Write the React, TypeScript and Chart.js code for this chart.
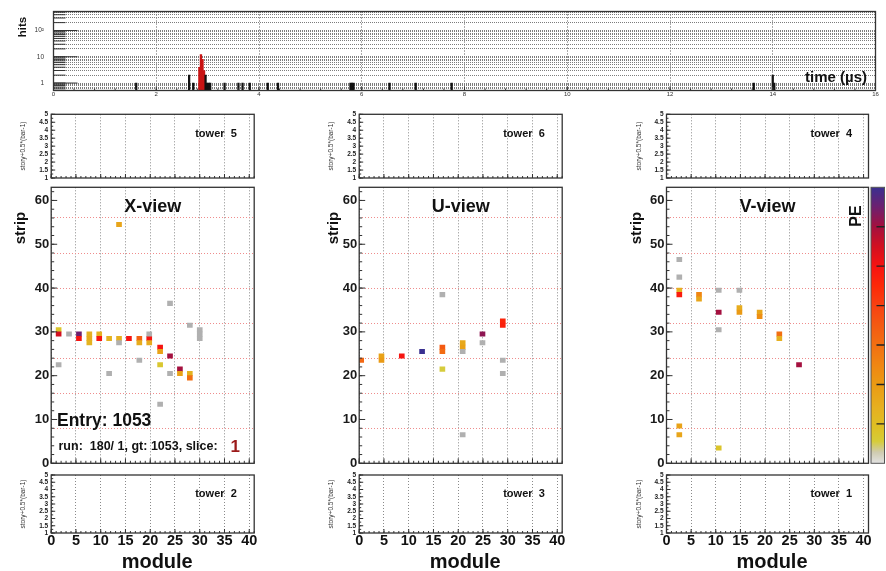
import React, { useEffect, useRef } from 'react';
import { Chart, registerables } from 'chart.js';

Chart.register(...registerables);

const FONT = "'Liberation Sans', Arial, Helvetica, sans-serif";

/* ====================== DATA ====================== */
// timing histogram: all hits (black) and hits of the selected slice (red)
const ALL_HIT_TIME = [1.61, 2.64, 2.72, 2.96, 2.99, 3.02, 3.05, 3.33, 3.6, 3.68, 3.82, 4.17, 4.37, 5.78, 5.81, 5.84, 6.54, 7.05, 7.75, 13.63, 14.0, 14.03];
const ALL_HIT_COUNT = [1, 2, 1, 2, 1, 1, 1, 1, 1, 1, 1, 1, 1, 1, 1, 1, 1, 1, 1, 1, 2, 1];
const SLICE_HIT_TIME = [2.84, 2.87, 2.9, 2.93];
const SLICE_HIT_COUNT = [4, 12, 8, 3];
const TIME_TICKS = [0, 2, 4, 6, 8, 10, 12, 14, 16];
const HITS_TICKS = [0.6, 0.7, 0.8, 0.9, 1, 2, 3, 4, 5, 6, 7, 8, 9, 10, 20, 30, 40, 50, 60, 70, 80, 90, 100, 200, 300, 400, 500];
const HITS_DECADES = [1, 10, 100];
const HITS_DECADE_LABELS = ['1', '10', '10²'];

// event display axes
const MODULE_TICKS = [0, 5, 10, 15, 20, 25, 30, 35, 40];
const STRIP_TICKS = [0, 10, 20, 30, 40, 50, 60];
const STRIP_GRID = [8, 16, 24, 32, 40, 48, 56];
const STORY_TICKS = [1, 1.5, 2, 2.5, 3, 3.5, 4, 4.5, 5];
const PE_TICKS = [10, 20, 30, 40, 50, 60];
const MODULE_MAX = 41;
const STRIP_MAX = 63;
const PE_MAX = 70;

// X-view hits (slice) : module, strip, PE
const X_MODULE = [1.5, 1.5, 5.6, 5.6, 7.7, 7.7, 7.7, 9.7, 9.7, 11.7, 13.7, 13.7, 15.7, 17.8, 17.8, 19.8, 19.8, 22.0, 22.0, 22.0, 24.0, 26.0, 26.0, 28.0, 28.0];
const X_STRIP = [30, 29, 29, 28, 29, 28, 27, 29, 28, 28, 28, 54, 28, 28, 27, 28, 27, 26, 25, 22, 24, 21, 20, 20, 19];
const X_PE = [8, 55, 65, 50, 14, 15, 13, 14, 49, 13, 14, 17, 50, 33, 15, 50, 15, 50, 18, 7, 60, 60, 18, 13, 30];
// X-view hits outside the slice
const X_OTHER_MODULE = [1.5, 3.6, 11.7, 13.7, 17.8, 19.8, 22.0, 24.0, 24.0, 28.0, 30.0, 30.0, 30.0];
const X_OTHER_STRIP = [22, 29, 20, 27, 23, 29, 13, 36, 20, 31, 30, 29, 28];

// U-view
const U_MODULE = [0.4, 4.5, 4.5, 8.6, 12.7, 16.8, 16.8, 16.8, 20.9, 20.9, 24.9, 29.0, 29.0];
const U_STRIP = [23, 24, 23, 24, 25, 26, 25, 21, 27, 26, 29, 32, 31];
const U_PE = [32, 18, 20, 50, 70, 35, 31, 5.5, 16, 18, 62, 46, 47];
const U_OTHER_MODULE = [16.8, 20.9, 20.9, 24.9, 29.0, 29.0];
const U_OTHER_STRIP = [38, 25, 6, 27, 23, 20];

// V-view
const V_MODULE = [2.6, 2.6, 2.6, 2.6, 6.6, 6.6, 10.6, 10.6, 14.8, 14.8, 18.9, 18.9, 22.9, 22.9, 26.9];
const V_STRIP = [39, 38, 8, 6, 38, 37, 34, 3, 35, 34, 34, 33, 29, 28, 22];
const V_PE = [14, 48, 18, 17, 25, 17, 60, 8, 15, 20, 17, 23, 30, 14, 60];
const V_OTHER_MODULE = [2.6, 2.6, 10.6, 10.6, 14.8];
const V_OTHER_STRIP = [46, 42, 39, 30, 39];

/* ====================== STYLE ====================== */
const PALETTE: [number, string][] = [
  [0.0, '#e2e2e2'],
  [0.04, '#cfcbb0'],
  [0.08, '#d6cc38'],
  [0.13, '#dec024'],
  [0.2, '#e6b020'],
  [0.28, '#ea9c14'],
  [0.35, '#f08812'],
  [0.42, '#f27212'],
  [0.5, '#f45a12'],
  [0.57, '#f84212'],
  [0.64, '#fc2a08'],
  [0.71, '#f81410'],
  [0.785, '#d21020'],
  [0.86, '#a21040'],
  [0.93, '#6c2070'],
  [1.0, '#3a3090'],
];
const OTHER_COLOR = '#b0b0b0';
const FRAME_COLOR = '#333';
const GRID_GREY = '#8a8a8a';
const GRID_RED = '#ef8c8c';

function hexRgb(h: string) {
  return [parseInt(h.slice(1, 3), 16), parseInt(h.slice(3, 5), 16), parseInt(h.slice(5, 7), 16)];
}
function peColor(pe: number) {
  const f = Math.max(0, Math.min(1, pe / PE_MAX));
  for (let i = 1; i < PALETTE.length; i++) {
    const [f1, c1] = PALETTE[i];
    const [f0, c0] = PALETTE[i - 1];
    if (f <= f1) {
      const t = (f - f0) / (f1 - f0);
      const a = hexRgb(c0), b = hexRgb(c1);
      const m = a.map((v, k) => Math.round(v + (b[k] - v) * t));
      return `rgb(${m[0]},${m[1]},${m[2]})`;
    }
  }
  return PALETTE[PALETTE.length - 1][1];
}
function steps(a: number, b: number, s: number) {
  const out: number[] = [];
  for (let v = a; v <= b + 1e-9; v += s) out.push(Math.round(v * 1000) / 1000);
  return out;
}

/* ====================== LAYOUT ====================== */
type Rect = { x: number; y: number; w: number; h: number };
type Plot = { l: number; t: number; r: number; b: number };

const COLS = [
  { name: 'X-view', top: 'tower  5', bottom: 'tower  2', L: 51.2, R: 254.2, stripX: 19 },
  { name: 'U-view', top: 'tower  6', bottom: 'tower  3', L: 359.2, R: 562.2, stripX: 332 },
  { name: 'V-view', top: 'tower  4', bottom: 'tower  1', L: 666.5, R: 868.5, stripX: 635 },
];
const VIEWS = [
  { mod: X_MODULE, strip: X_STRIP, pe: X_PE, omod: X_OTHER_MODULE, ostrip: X_OTHER_STRIP },
  { mod: U_MODULE, strip: U_STRIP, pe: U_PE, omod: U_OTHER_MODULE, ostrip: U_OTHER_STRIP },
  { mod: V_MODULE, strip: V_STRIP, pe: V_PE, omod: V_OTHER_MODULE, ostrip: V_OTHER_STRIP },
];
const TOWER_TOP = { t: 114.3, b: 178, cy: 104, ch: 80 };
const MAIN = { t: 187.3, b: 463.3, cy: 184, ch: 287 };
const TOWER_BOT = { t: 475, b: 533, cy: 471, ch: 84 };
const TIME_CANVAS: Rect = { x: 0, y: 0, w: 886, h: 104 };
const TIME_PLOT: Plot = { l: 53.5, t: 11.5, r: 875.5, b: 90.5 };

function colCanvas(ci: number, row: { cy: number; ch: number }): Rect {
  const x = Math.floor(COLS[ci].L - 45);
  const right = ci === 2 ? 886 : Math.ceil(COLS[ci].R + 4);
  return { x, y: row.cy, w: right - x, h: row.ch };
}

function fixedLayout(c: Rect, p: Plot) {
  return {
    padding: { left: 0, top: p.t - c.y, right: c.x + c.w - p.r, bottom: 0 },
    yw: p.l - c.x,
    xh: c.y + c.h - p.b,
  };
}
function axisFix(size: number, horizontal: boolean) {
  return (s: any) => {
    if (horizontal) s.height = size;
    else s.width = size;
    s.paddingLeft = 0;
    s.paddingRight = 0;
    s.paddingTop = 0;
    s.paddingBottom = 0;
  };
}
function setTicks(values: number[]) {
  return (s: any) => {
    s.ticks = values.map((v) => ({ value: v }));
  };
}

type TickSet = { axis: string; side: 'bottom' | 'left'; major: number[]; minor: number[]; majorLen: number; minorLen: number };
function framePlugin(sets: TickSet[], lw = 1.3) {
  return {
    id: 'rootFrame',
    afterDatasetsDraw(chart: any) {
      const { ctx, chartArea: a } = chart;
      ctx.save();
      ctx.strokeStyle = FRAME_COLOR;
      ctx.lineWidth = 1;
      ctx.setLineDash([]);
      ctx.beginPath();
      for (const t of sets) {
        const sc = chart.scales[t.axis];
        const draw = (vals: number[], len: number) =>
          vals.forEach((v) => {
            const p = sc.getPixelForValue(v);
            if (t.side === 'bottom') {
              ctx.moveTo(p, a.bottom);
              ctx.lineTo(p, a.bottom - len);
            } else {
              ctx.moveTo(a.left, p);
              ctx.lineTo(a.left + len, p);
            }
          });
        draw(t.minor, t.minorLen);
        draw(t.major, t.majorLen);
      }
      ctx.stroke();
      ctx.lineWidth = lw;
      ctx.strokeRect(a.left, a.top, a.right - a.left, a.bottom - a.top);
      ctx.restore();
    },
  };
}
function colorbarPlugin(x0: number, x1: number) {
  return {
    id: 'peColorbar',
    afterDraw(chart: any) {
      const { ctx, chartArea: a } = chart;
      ctx.save();
      const g = ctx.createLinearGradient(0, a.bottom, 0, a.top);
      PALETTE.forEach(([f, c]) => g.addColorStop(f, c));
      ctx.fillStyle = g;
      ctx.fillRect(x0, a.top, x1 - x0, a.bottom - a.top);
      ctx.strokeStyle = '#555';
      ctx.lineWidth = 1;
      ctx.strokeRect(x0, a.top, x1 - x0, a.bottom - a.top);
      ctx.strokeStyle = '#222';
      ctx.lineWidth = 1.4;
      ctx.beginPath();
      PE_TICKS.forEach((v) => {
        const y = a.bottom - (v / PE_MAX) * (a.bottom - a.top);
        ctx.moveTo(x1, y);
        ctx.lineTo(x1 - 8, y);
      });
      ctx.stroke();
      ctx.restore();
    },
  };
}

const BASE_OPTS = {
  animation: false,
  responsive: false,
  devicePixelRatio: 1,
  events: [],
};
const NO_PLUGINS = { legend: { display: false }, tooltip: { enabled: false }, title: { display: false } };

function cells(mods: number[], strips: number[]) {
  return mods.map((m, i) => ({ x: m, y: [strips[i], strips[i] + 1] }));
}

function moduleAxis(xh: number, labels: boolean) {
  return {
    type: 'linear',
    position: 'bottom',
    min: 0,
    max: MODULE_MAX,
    offset: false,
    afterBuildTicks: setTicks(MODULE_TICKS),
    afterFit: axisFix(xh, true),
    ticks: {
      display: labels,
      autoSkip: false,
      maxRotation: 0,
      minRotation: 0,
      padding: 0.8,
      color: '#111',
      font: { family: FONT, size: 14.5, weight: 'bold', lineHeight: 1 },
      callback: (v: number) => String(v),
    },
    grid: { display: true, drawTicks: false, offset: false, color: GRID_GREY, lineWidth: 1 },
    border: { display: false, dash: [1, 2] },
  };
}

/* ====================== CHART CONFIGS ====================== */
function timeConfig() {
  const lay = fixedLayout(TIME_CANVAS, TIME_PLOT);
  return {
    type: 'bar',
    data: {
      datasets: [
        {
          label: 'all hits',
          data: ALL_HIT_TIME.map((t, i) => ({ x: t, y: ALL_HIT_COUNT[i] })),
          backgroundColor: '#111',
          barThickness: 1.6,
          grouped: false,
        },
        {
          label: 'slice hits',
          data: SLICE_HIT_TIME.map((t, i) => ({ x: t, y: SLICE_HIT_COUNT[i] })),
          backgroundColor: '#c81414',
          barThickness: 1.7,
          grouped: false,
        },
      ],
    },
    options: {
      ...BASE_OPTS,
      layout: { padding: lay.padding, autoPadding: false },
      plugins: NO_PLUGINS,
      scales: {
        x: {
          type: 'linear',
          position: 'bottom',
          min: 0,
          max: 16,
          offset: false,
          afterBuildTicks: setTicks(TIME_TICKS),
          afterFit: axisFix(lay.xh, true),
          ticks: {
            autoSkip: false,
            maxRotation: 0,
            padding: 0.5,
            color: '#333',
            font: { family: FONT, size: 6 },
            callback: (v: number) => String(v),
          },
          grid: { display: true, drawTicks: false, offset: false, color: '#5a5a5a' },
          border: { display: false, dash: [1, 2] },
        },
        y: {
          type: 'logarithmic',
          position: 'left',
          min: 0.52,
          max: 530,
          afterBuildTicks: setTicks(HITS_TICKS),
          afterFit: axisFix(lay.yw, false),
          ticks: {
            autoSkip: false,
            padding: 9.5,
            color: '#333',
            font: { family: FONT, size: 6.5 },
            callback: (v: number) => {
              const k = HITS_DECADES.indexOf(v);
              return k >= 0 ? HITS_DECADE_LABELS[k] : '';
            },
          },
          grid: { display: true, drawTicks: false, color: '#7c7c7c' },
          border: { display: false, dash: [1, 1] },
        },
      },
    },
    plugins: [
      framePlugin([
        { axis: 'x', side: 'bottom', major: TIME_TICKS, minor: steps(0, 16, 0.4), majorLen: 4, minorLen: 2 },
        { axis: 'y', side: 'left', major: HITS_DECADES, minor: HITS_TICKS, majorLen: 24, minorLen: 12 },
      ]),
    ],
  };
}

function towerConfig(ci: number, row: typeof TOWER_TOP, labels: boolean) {
  const c = colCanvas(ci, row);
  const lay = fixedLayout(c, { l: COLS[ci].L, r: COLS[ci].R, t: row.t, b: row.b });
  return {
    type: 'scatter',
    data: { datasets: [] },
    options: {
      ...BASE_OPTS,
      layout: { padding: lay.padding, autoPadding: false },
      plugins: NO_PLUGINS,
      scales: {
        x: moduleAxis(lay.xh, labels),
        y: {
          type: 'linear',
          position: 'left',
          min: 1,
          max: 5,
          afterBuildTicks: setTicks(STORY_TICKS),
          afterFit: axisFix(lay.yw, false),
          ticks: {
            autoSkip: false,
            padding: 3,
            color: '#222',
            font: { family: FONT, size: 6.5, weight: 'bold', lineHeight: 1 },
            callback: (v: number) => String(v),
          },
          grid: { display: false, drawTicks: false },
          border: { display: false },
        },
      },
    },
    plugins: [
      framePlugin([
        { axis: 'x', side: 'bottom', major: MODULE_TICKS, minor: steps(0, 41, 1), majorLen: 4, minorLen: 2 },
        { axis: 'y', side: 'left', major: STORY_TICKS, minor: steps(1, 5, 0.25), majorLen: 4, minorLen: 2 },
      ]),
    ],
  };
}

function mainConfig(ci: number) {
  const col = COLS[ci];
  const v = VIEWS[ci];
  const c = colCanvas(ci, MAIN);
  const lay = fixedLayout(c, { l: col.L, r: col.R, t: MAIN.t, b: MAIN.b });
  const plugins: any[] = [
    framePlugin([
      { axis: 'x', side: 'bottom', major: MODULE_TICKS, minor: steps(0, 41, 1), majorLen: 5, minorLen: 2.5 },
      { axis: 'y', side: 'left', major: STRIP_TICKS, minor: steps(0, 63, 2), majorLen: 6, minorLen: 3 },
    ]),
  ];
  if (ci === 2) plugins.push(colorbarPlugin(871 - c.x, 884.5 - c.x));
  return {
    type: 'bar',
    data: {
      datasets: [
        {
          label: 'other hits',
          data: cells(v.omod, v.ostrip),
          backgroundColor: OTHER_COLOR,
          barThickness: 5,
          grouped: false,
        },
        {
          label: 'slice hits (PE)',
          data: cells(v.mod, v.strip),
          backgroundColor: v.pe.map(peColor),
          barThickness: 5,
          grouped: false,
        },
      ],
    },
    options: {
      ...BASE_OPTS,
      layout: { padding: lay.padding, autoPadding: false },
      plugins: NO_PLUGINS,
      scales: {
        x: moduleAxis(lay.xh, false),
        y: {
          type: 'linear',
          position: 'left',
          min: 0,
          max: STRIP_MAX,
          afterBuildTicks: setTicks(STRIP_TICKS),
          afterFit: axisFix(lay.yw, false),
          ticks: {
            autoSkip: false,
            padding: 2,
            color: '#1a1a1a',
            font: { family: FONT, size: 13, weight: 'bold', lineHeight: 1 },
            callback: (val: number) => String(val),
          },
          grid: { display: false, drawTicks: false },
          border: { display: false },
        },
        y2: {
          type: 'linear',
          position: 'left',
          min: 0,
          max: STRIP_MAX,
          afterBuildTicks: setTicks(STRIP_GRID),
          afterFit: axisFix(0, false),
          ticks: { display: false },
          grid: { display: true, drawTicks: false, color: GRID_RED, lineWidth: 1 },
          border: { display: false, dash: [1, 2] },
        },
      },
    },
    plugins,
  };
}

/* ====================== COMPONENTS ====================== */
function ChartBox({ rect, build }: { rect: Rect; build: () => any }) {
  const ref = useRef<HTMLCanvasElement>(null);
  useEffect(() => {
    const chart = new Chart(ref.current as HTMLCanvasElement, build());
    return () => chart.destroy();
  }, []);
  return (
    <canvas
      ref={ref}
      width={rect.w}
      height={rect.h}
      style={{ position: 'absolute', left: rect.x, top: rect.y, width: rect.w, height: rect.h }}
    />
  );
}

function Label(props: {
  x: number;
  y: number;
  text: string;
  size: number;
  bold?: boolean;
  rotate?: boolean;
  left?: boolean;
  color?: string;
}) {
  const { x, y, text, size, bold = true, rotate = false, left = false, color = '#111' } = props;
  return (
    <div
      style={{
        position: 'absolute',
        left: x,
        top: y,
        fontFamily: FONT,
        fontSize: size,
        fontWeight: bold ? 700 : 400,
        lineHeight: 1,
        whiteSpace: 'pre',
        color,
        transform: `translate(${left ? '0' : '-50%'},-50%)${rotate ? ' rotate(-90deg)' : ''}`,
      }}
    >
      {text}
    </div>
  );
}

export default function App() {
  return (
    <div style={{ position: 'absolute', left: 0, top: 0, width: 886, height: 571, background: '#fff', overflow: 'hidden' }}>
      <ChartBox rect={TIME_CANVAS} build={timeConfig} />
      {COLS.map((col, ci) => (
        <React.Fragment key={col.name}>
          <ChartBox rect={colCanvas(ci, TOWER_TOP)} build={() => towerConfig(ci, TOWER_TOP, false)} />
          <ChartBox rect={colCanvas(ci, MAIN)} build={() => mainConfig(ci)} />
          <ChartBox rect={colCanvas(ci, TOWER_BOT)} build={() => towerConfig(ci, TOWER_BOT, true)} />
        </React.Fragment>
      ))}
      <Label x={22.5} y={27} text="hits" size={11.5} rotate />
      <Label x={805} y={75.5} text="time (µs)" size={15} left />
      {COLS.map((col, ci) => {
        const cx = (col.L + col.R) / 2;
        return (
          <React.Fragment key={'t' + col.name}>
            <Label x={col.stripX} y={228} text="strip" size={15} rotate />
            <Label x={cx} y={206} text={col.name} size={18} />
            <Label x={col.L + 144} y={133.3} text={col.top} size={11} left />
            <Label x={col.L + 144} y={492.7} text={col.bottom} size={11} left />
            <Label x={col.L - 28} y={146} text="story+0.5*(bar-1)" size={6.5} bold={false} rotate color="#333" />
            <Label x={col.L - 28} y={504} text="story+0.5*(bar-1)" size={6.5} bold={false} rotate color="#333" />
            <Label x={cx + 4.5} y={561} text="module" size={20} />
          </React.Fragment>
        );
      })}
      <Label x={57} y={420.7} text="Entry: 1053" size={17.5} left />
      <Label x={58.5} y={446} text="run:  180/ 1, gt: 1053, slice:" size={12.5} left />
      <Label x={230.5} y={445.5} text="1" size={17} left color="#9c1a1a" />
      <Label x={855.5} y={216} text="PE" size={16} rotate />
    </div>
  );
}
